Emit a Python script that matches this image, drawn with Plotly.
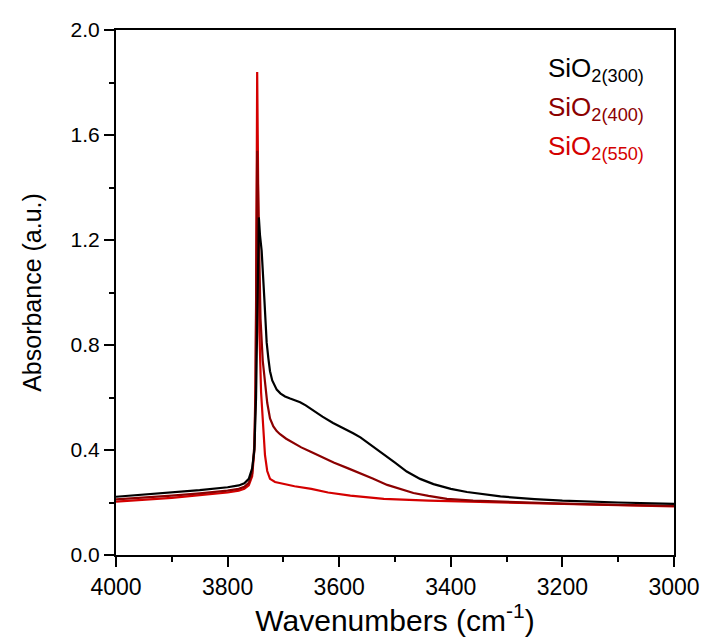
import plotly.graph_objects as go

# Wavenumbers (cm-1) and absorbance values
wn_300 = [4000, 3950, 3900, 3850, 3800, 3780, 3770, 3762, 3756, 3752, 3749, 3748, 3746, 3744,
          3742, 3739, 3734, 3730, 3727, 3724, 3720, 3716, 3712, 3705, 3697, 3688, 3680, 3670,
          3660, 3647, 3630, 3611, 3593, 3575, 3562, 3550, 3535, 3520, 3500, 3479, 3455, 3431,
          3400, 3371, 3340, 3311, 3250, 3200, 3100, 3000]
ab_300 = [0.222, 0.230, 0.238, 0.247, 0.258, 0.265, 0.273, 0.290, 0.330, 0.400, 0.600, 0.780,
          1.000, 1.286, 1.220, 1.160, 0.970, 0.810, 0.750, 0.700, 0.665, 0.645, 0.630, 0.615,
          0.604, 0.596, 0.590, 0.582, 0.570, 0.550, 0.527, 0.503, 0.484, 0.464, 0.448, 0.430,
          0.408, 0.385, 0.352, 0.318, 0.290, 0.270, 0.252, 0.240, 0.230, 0.223, 0.213, 0.207,
          0.200, 0.195]

wn_400 = [4000, 3950, 3900, 3850, 3800, 3780, 3770, 3762, 3756, 3752, 3750, 3749, 3748, 3747,
          3746, 3744, 3741, 3737, 3733, 3729, 3724, 3718, 3712, 3706, 3695, 3682, 3668, 3652,
          3630, 3610, 3585, 3562, 3540, 3514, 3490, 3467, 3440, 3407, 3360, 3311, 3200, 3100, 3000]
ab_400 = [0.212, 0.218, 0.226, 0.235, 0.245, 0.252, 0.260, 0.275, 0.310, 0.420, 0.650, 0.950,
          1.300, 1.540, 1.450, 1.150, 0.900, 0.740, 0.660, 0.580, 0.520, 0.490, 0.472, 0.460,
          0.443, 0.426, 0.410, 0.394, 0.372, 0.352, 0.331, 0.312, 0.291, 0.267, 0.250, 0.236,
          0.225, 0.214, 0.207, 0.203, 0.196, 0.191, 0.187]

wn_550 = [4000, 3950, 3900, 3850, 3800, 3780, 3770, 3762, 3756, 3752, 3750, 3749, 3748, 3747,
          3746, 3745, 3743, 3740, 3737, 3733, 3729, 3724, 3715, 3700, 3680, 3650, 3620, 3580,
          3520, 3440, 3300, 3200, 3100, 3000]
ab_550 = [0.203, 0.210, 0.218, 0.228, 0.238, 0.245, 0.252, 0.265, 0.300, 0.400, 0.600, 0.900,
          1.400, 1.840, 1.600, 1.200, 0.850, 0.620, 0.500, 0.380, 0.320, 0.290, 0.278, 0.270,
          0.262, 0.252, 0.238, 0.226, 0.214, 0.207, 0.200, 0.195, 0.190, 0.185]

series_names = ["SiO<sub>2(550)</sub>", "SiO<sub>2(400)</sub>", "SiO<sub>2(300)</sub>"]
series_colors = ["#D40000", "#8B0000", "#000000"]

x_major = [4000, 3800, 3600, 3400, 3200, 3000]
y_major = [0.0, 0.4, 0.8, 1.2, 1.6, 2.0]
y_major_text = ["0.0", "0.4", "0.8", "1.2", "1.6", "2.0"]

FONT = "Liberation Sans, Arial, sans-serif"

fig = go.Figure()
for wn, ab, name, col in zip([wn_550, wn_400, wn_300], [ab_550, ab_400, ab_300],
                             series_names, series_colors):
    fig.add_trace(go.Scatter(x=wn, y=ab, mode="lines", name=name,
                             line=dict(color=col, width=2.2), showlegend=False))

# text legend (top right)
legend_rows = [("SiO<sub>2(300)</sub>", "#000000", 0.925),
               ("SiO<sub>2(400)</sub>", "#8B0000", 0.850),
               ("SiO<sub>2(550)</sub>", "#D40000", 0.776)]
for txt, col, yy in legend_rows:
    fig.add_annotation(text=txt, x=0.771, y=yy, xref="paper", yref="paper",
                       xanchor="left", yanchor="middle", showarrow=False,
                       font=dict(family=FONT, size=26, color=col))

fig.update_layout(
    template="none",
    width=706, height=637, margin=dict(l=116, r=32, t=30, b=82),
    plot_bgcolor="white", paper_bgcolor="white",
    font=dict(family=FONT, color="black"),
    xaxis=dict(range=[4000, 3000], tickmode="array", tickvals=x_major,
               ticktext=[str(v) for v in x_major],
               showline=True, linecolor="black", linewidth=2, mirror=True,
               ticks="outside", ticklen=10, tickwidth=2, tickcolor="black",
               minor=dict(ticks="outside", ticklen=5, tickwidth=2, tickcolor="black",
                          dtick=100, tick0=3000, showgrid=False),
               showgrid=False, zeroline=False, automargin=False,
               tickfont=dict(family=FONT, size=23, color="black"),
               title=dict(text="Wavenumbers (cm<sup>-1</sup>)", standoff=6,
                          font=dict(family=FONT, size=30, color="black"))),
    yaxis=dict(range=[0, 2.0], tickmode="array", tickvals=y_major, ticktext=y_major_text,
               showline=True, linecolor="black", linewidth=2, mirror=True,
               ticks="outside", ticklen=10, tickwidth=2, tickcolor="black",
               minor=dict(ticks="outside", ticklen=5, tickwidth=2, tickcolor="black",
                          dtick=0.2, tick0=0, showgrid=False),
               showgrid=False, zeroline=False, automargin=False,
               tickfont=dict(family=FONT, size=21, color="black"),
               title=dict(text="Absorbance (a.u.)", standoff=22,
                          font=dict(family=FONT, size=25, color="black"))),
)

fig.write_html("out.html")
